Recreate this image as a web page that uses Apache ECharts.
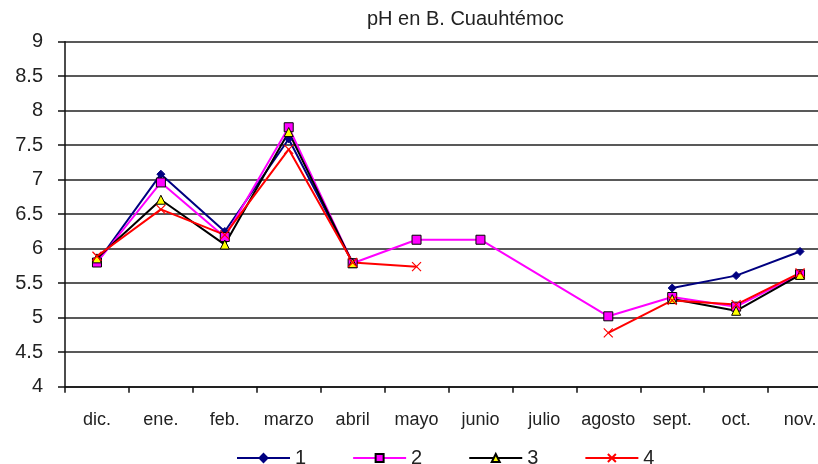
<!DOCTYPE html>
<html>
<head>
<meta charset="utf-8">
<script src="https://cdn.jsdelivr.net/npm/echarts@6/dist/echarts.min.js"></script>
<style>
  html, body { margin: 0; padding: 0; background: #fff; }
  #main { width: 818px; height: 464px; }
</style>
</head>
<body>
<div id="main"></div>
<script>
// meses y valores de pH
var months = ['dic.', 'ene.', 'feb.', 'marzo', 'abril', 'mayo', 'junio', 'julio', 'agosto', 'sept.', 'oct.', 'nov.'];
var serie1 = [5.80, 7.08, 6.25, 7.59, 5.80, null, null, null, null, 5.43, 5.61, 5.96];
var serie2 = [5.80, 6.96, 6.17, 7.76, 5.79, 6.13, 6.13, null, 5.02, 5.30, 5.16, 5.63];
var serie3 = [5.86, 6.71, 6.06, 7.69, 5.79, null, null, null, null, 5.27, 5.10, 5.62];
var serie4 = [5.89, 6.57, 6.20, 7.44, 5.80, 5.74, null, null, 4.78, 5.25, 5.19, 5.65];

var chart = echarts.init(document.getElementById('main'));
var font = 'Liberation Sans, Arial, sans-serif';
var crossPath = 'path://M0,0L10,10M10,0L0,10';

var option = {
  animation: false,
  title: {
    text: 'pH en B. Cuauhtémoc',
    left: 362,
    top: 4,
    textStyle: { fontFamily: font, fontSize: 20, fontWeight: 'normal', color: '#222' }
  },
  legend: {
    left: 231,
    top: 443,
    itemWidth: 53,
    itemHeight: 10,
    itemGap: 46,
    textStyle: { fontFamily: font, fontSize: 20, color: '#222' },
    data: ['1', '2', '3', '4']
  },
  grid: {
    left: 65,
    top: 41.7,
    width: 767,
    bottom: 77.3,
    containLabel: false,
    outerBoundsMode: 'none'
  },
  xAxis: {
    type: 'category',
    data: months,
    boundaryGap: true,
    axisLine: { lineStyle: { color: '#111', width: 1.5 } },
    axisTick: { show: true, interval: 0, length: 6, lineStyle: { color: '#111', width: 1.5 } },
    axisLabel: { interval: 0, fontFamily: font, fontSize: 18, color: '#222', margin: 24 },
    splitLine: { show: false }
  },
  yAxis: {
    type: 'value',
    min: 4,
    max: 9,
    interval: 0.5,
    axisLine: { show: true, lineStyle: { color: '#111', width: 1.5 } },
    axisTick: { show: true, length: 7, lineStyle: { color: '#111', width: 1.5 } },
    axisLabel: { fontFamily: font, fontSize: 20, color: '#222', margin: 22 },
    splitLine: { show: true, lineStyle: { color: '#222', width: 1.5 } }
  },
  series: [
    {
      name: '1',
      type: 'line',
      data: serie1,
      symbol: 'diamond',
      symbolSize: 8,
      lineStyle: { color: '#000080', width: 2 },
      itemStyle: { color: '#000080', borderColor: '#000080', borderWidth: 1 }
    },
    {
      name: '2',
      type: 'line',
      data: serie2,
      connectNulls: true,
      symbol: 'rect',
      symbolSize: 9,
      lineStyle: { color: '#ff00ff', width: 2 },
      itemStyle: { color: '#ff00ff', borderColor: '#000', borderWidth: 1 }
    },
    {
      name: '3',
      type: 'line',
      data: serie3,
      symbol: 'triangle',
      symbolSize: 9,
      lineStyle: { color: '#000', width: 2 },
      itemStyle: { color: '#ffff00', borderColor: '#000', borderWidth: 1 }
    },
    {
      name: '4',
      type: 'line',
      data: serie4,
      symbol: crossPath,
      symbolSize: 9,
      lineStyle: { color: '#ff0000', width: 2 },
      itemStyle: { color: '#ff0000', borderColor: '#ff0000', borderWidth: 1.2 }
    }
  ]
};

chart.setOption(option);
</script>
</body>
</html>
